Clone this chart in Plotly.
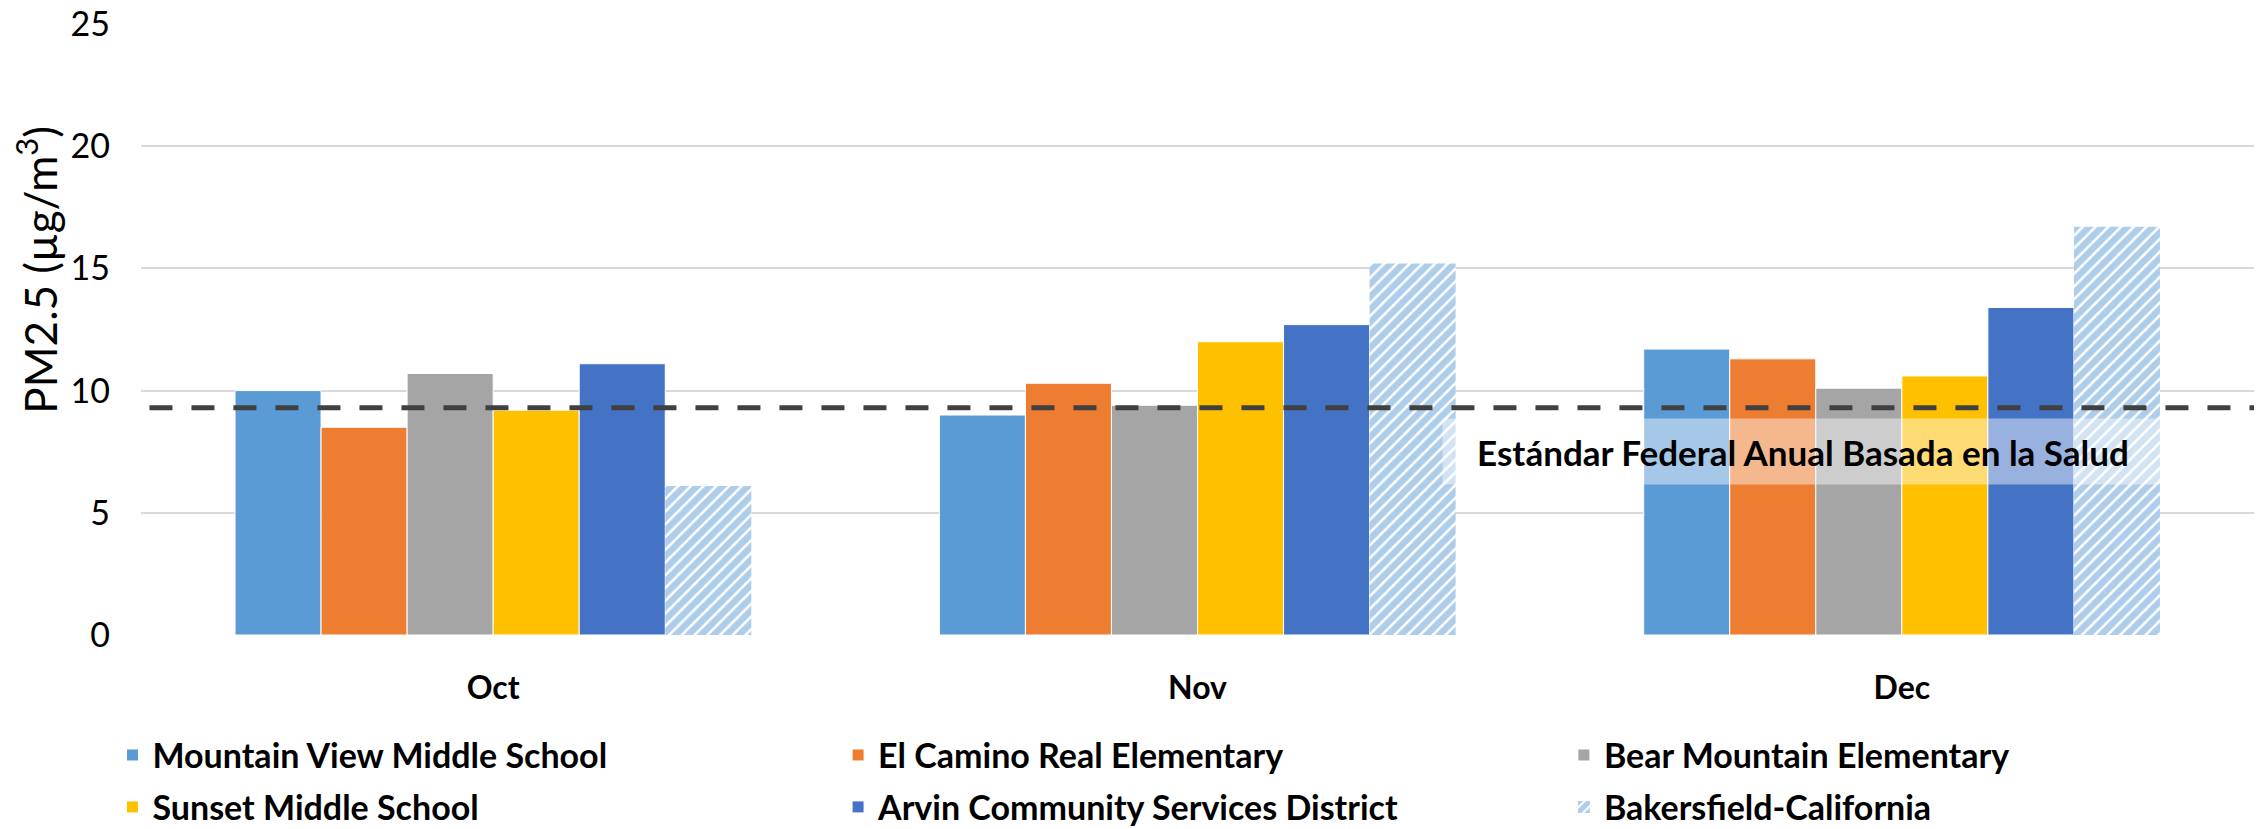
import plotly.graph_objects as go

months = ["Oct", "Nov", "Dec"]
series_names = [
    "Mountain View Middle School",
    "El Camino Real Elementary",
    "Bear Mountain Elementary",
    "Sunset Middle School",
    "Arvin Community Services District",
    "Bakersfield-California",
]
mountain_view = [10.0, 9.0, 11.7]
el_camino = [8.5, 10.3, 11.3]
bear_mountain = [10.7, 9.4, 10.1]
sunset = [9.2, 12.0, 10.6]
arvin = [11.1, 12.7, 13.4]
bakersfield = [6.1, 15.2, 16.7]
standard_value = 9.3
standard_label = "Estándar Federal Anual Basada en la Salud"
y_ticks = [0, 5, 10, 15, 20, 25]
y_title = "PM2.5 (µg/m<sup>3</sup>)"

colors = ["#5B9BD5", "#ED7D31", "#A5A5A5", "#FFC000", "#4472C4", "#5B9BD5"]
values = [mountain_view, el_camino, bear_mountain, sunset, arvin, bakersfield]
legend_ids = ["legend", "legend2", "legend3", "legend4", "legend5", "legend6"]
legend_x = [-0.0135, 0.3299, 0.6734, -0.0135, 0.3299, 0.6734]
legend_y = [-0.197, -0.197, -0.197, -0.282, -0.282, -0.282]

FONT = "Lato"

fig = go.Figure()
for i, (name, vals) in enumerate(zip(series_names, values)):
    if i == 5:
        marker = dict(
            color="white",
            pattern=dict(shape="/", fgcolor=colors[i], bgcolor="white",
                         size=9, solidity=0.72, fillmode="overlay"),
            line=dict(width=0),
        )
    else:
        marker = dict(color=colors[i], line=dict(color="white", width=1))
    fig.add_trace(go.Bar(x=months, y=vals, name=name, marker=marker,
                         legend=legend_ids[i]))

fig.add_shape(type="line", xref="paper", yref="y", x0=0.004, x1=1,
              y0=standard_value, y1=standard_value,
              line=dict(color="#404040", width=5, dash="23px,19px"), layer="above")

fig.add_annotation(text=standard_label, xref="paper", yref="y", x=0.7866, y=7.5,
                   xanchor="center", yanchor="middle",
                   showarrow=False, font=dict(family=FONT, size=35, color="black", weight="bold"),
                   bgcolor="rgba(255,255,255,0.45)", width=716, height=61, borderpad=2)

fig.add_annotation(text=y_title, xref="paper", yref="y", x=-0.0492, y=14.95,
                   xanchor="center", yanchor="middle",
                   textangle=-90, showarrow=False,
                   font=dict(family=FONT, size=44, color="black"))

legends = {}
for i, lid in enumerate(legend_ids):
    legends[lid] = dict(orientation="h", xanchor="left", yanchor="middle",
                        x=legend_x[i], y=legend_y[i],
                        font=dict(family=FONT, size=34, color="black", weight="bold"),
                        bgcolor="rgba(0,0,0,0)")

fig.update_layout(
    width=2259, height=829,
    margin=dict(l=141, r=5, t=24, b=194, autoexpand=False),
    plot_bgcolor="white", paper_bgcolor="white",
    barmode="group", bargap=0.267, bargroupgap=0,
    showlegend=True,
    xaxis=dict(showgrid=False, showline=False, ticks="",
               tickfont=dict(family=FONT, size=32, color="black", weight="bold"),
               ticklabelstandoff=31),
    yaxis=dict(range=[0, 25], tickvals=y_ticks, showgrid=True, gridcolor="#D9D9D9",
               gridwidth=2, zeroline=False, showline=False, ticks="",
               tickfont=dict(family=FONT, size=34, color="black"),
               ticklabelstandoff=30),
    **legends,
)

fig.write_html("out.html", config={"displayModeBar": False},
               post_script="document.body.style.margin='0px';")
